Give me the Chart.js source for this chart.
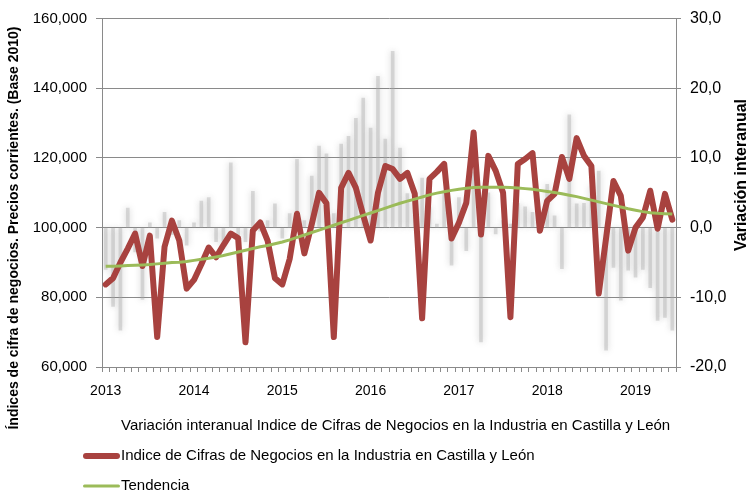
<!DOCTYPE html>
<html>
<head>
<meta charset="utf-8">
<script src="https://cdn.jsdelivr.net/npm/chart.js@4.4.1/dist/chart.umd.min.js"></script>
<style>
  html, body { margin: 0; padding: 0; background: #fff; }
  #wrap { width: 747px; height: 493px; position: relative; }
</style>
</head>
<body>
<div id="wrap"><canvas id="chart"></canvas></div>
<script>
const YEARS = ['2013', '2014', '2015', '2016', '2017', '2018', '2019'];
const MONTHS = ['ene', 'feb', 'mar', 'abr', 'may', 'jun', 'jul', 'ago', 'sep', 'oct', 'nov', 'dic'];

// Índice de cifra de negocios (eje izquierdo)
const INDICE = [
  83700, 85500, 90000, 94000, 98300, 89000, 97700, 68600, 94500, 102000, 96300, 82500,
  85000, 89500, 94300, 91500, 95000, 98300, 97000, 67100, 99200, 101500, 96300, 85500,
  83700, 91000, 104000, 92600, 101000, 110000, 107000, 68600, 111400, 115700, 111400, 103500,
  96300, 110000, 117700, 116800, 114000, 115700, 109700, 74000, 114000, 116000, 118300, 96900,
  101400, 107100, 127300, 98000, 120600, 116300, 110000, 74300, 118300, 119700, 121400, 99100,
  107700, 109700, 120300, 114000, 125700, 120600, 117700, 81100, 97000, 113400, 109100, 93400,
  100000, 102900, 110600, 99700, 109700, 102300
];

// Tendencia (eje izquierdo)
const TENDENCIA = [
  88900, 88900, 89000, 89100, 89200, 89300, 89400, 89600, 89800, 90000, 90100, 90300,
  90600, 90900, 91200, 91600, 92000, 92500, 93000, 93500, 94000, 94500, 94900, 95400,
  95900, 96500, 97200, 97900, 98600, 99300, 100000, 100700, 101400, 102100, 102800, 103500,
  104200, 104900, 105600, 106300, 107000, 107600, 108200, 108800, 109400, 109900, 110300, 110700,
  111000, 111300, 111500, 111600, 111600, 111600, 111600, 111500, 111400, 111200, 111000, 110700,
  110400, 110100, 109700, 109300, 108900, 108400, 107900, 107400, 106900, 106400, 105900, 105400,
  105000, 104600, 104300, 104100, 104000, 103900
];

// Variación interanual (eje derecho)
const VARIACION = [
  -6.0, -11.3, -14.7, 2.8, -3.5, -10.3, 0.7, -1.5, 2.2, -1.0, 1.0, -2.5,
  0.7, 3.8, 4.3, -2.0, -3.0, 9.3, -1.0, -2.0, 5.2, -0.5, 1.0, 3.4,
  -1.5, 2.0, 9.8, 1.0, 7.4, 11.7, 10.6, 2.0, 12.0, 13.1, 15.7, 18.6,
  14.3, 21.7, 12.7, 25.3, 11.4, 4.9, 3.4, 7.1, 3.0, 0.5, 5.0, -5.4,
  4.3, -3.3, 8.0, -16.4, 5.0, -0.9, 1.0, 0.5, 3.5, 3.0, 2.2, 1.0,
  6.2, 1.7, -5.9, 16.2, 3.4, 3.5, 6.0, 8.1, -17.6, -5.7, -10.4, -6.1,
  -7.1, -6.0, -8.6, -13.3, -12.9, -14.7
];

const CATEGORIES = YEARS.flatMap(y => MONTHS.map(m => m + '-' + y.slice(2))).slice(0, INDICE.length);

const LEFT_TITLE = 'Índices de cifra de negocios. Precios corrientes. (Base 2010)';
const RIGHT_TITLE = 'Variación interanual';

const FONT = 'Liberation Sans, Arial, sans-serif';
const AXIS_GRAY = '#8a8a8a';

// soft blurred look for the yoy bars
const barGlow = {
  id: 'barGlow',
  beforeDatasetDraw(chart, args) {
    if (args.index !== 0) return;
    const ctx = chart.ctx;
    ctx.save();
    ctx.shadowColor = 'rgba(120, 120, 120, 0.8)';
    ctx.shadowBlur = 6;
  },
  afterDatasetDraw(chart, args) {
    if (args.index !== 0) return;
    chart.ctx.restore();
  }
};

// axis titles and the stacked legend, laid out like the Excel original
const extras = {
  id: 'extras',
  afterDraw(chart) {
    const ctx = chart.ctx;
    ctx.save();
    ctx.fillStyle = '#000';
    ctx.font = 'bold 14px ' + FONT;
    ctx.textAlign = 'center';
    ctx.textBaseline = 'middle';

    ctx.save();
    ctx.translate(14, 228);
    ctx.rotate(-Math.PI / 2);
    ctx.fillText(LEFT_TITLE, 0, 0);
    ctx.restore();

    ctx.save();
    ctx.font = 'bold 16px ' + FONT;
    ctx.translate(742, 175);
    ctx.rotate(-Math.PI / 2);
    ctx.fillText(RIGHT_TITLE, 0, 0);
    ctx.restore();

    const rows = [426, 456, 486];
    ctx.font = '15px ' + FONT;
    ctx.textAlign = 'left';
    chart.data.datasets.forEach((ds, i) => {
      const y = rows[i];
      if (ds.type === 'line') {
        ctx.beginPath();
        ctx.strokeStyle = ds.borderColor;
        ctx.lineWidth = ds.borderWidth;
        ctx.lineCap = 'round';
        ctx.moveTo(83 + ds.borderWidth / 2, y);
        ctx.lineTo(120 - ds.borderWidth / 2, y);
        ctx.stroke();
      }
      ctx.fillStyle = '#000';
      ctx.fillText(ds.label, 121, y);
    });
    ctx.restore();
  }
};

new Chart(document.getElementById('chart'), {
  type: 'bar',
  data: {
    labels: CATEGORIES,
    datasets: [
      {
        type: 'bar',
        label: 'Variación interanual Indice de Cifras de Negocios en la Industria en Castilla y León',
        data: VARIACION,
        yAxisID: 'y1',
        backgroundColor: 'rgba(170, 170, 170, 0.4)',
        barThickness: 3,
        order: 2,
      },
      {
        type: 'line',
        label: 'Indice de Cifras de Negocios en la Industria en Castilla y León',
        data: INDICE,
        yAxisID: 'y',
        borderColor: '#A8423F',
        borderWidth: 6,
        borderJoinStyle: 'round',
        borderCapStyle: 'round',
        pointRadius: 0,
        tension: 0,
        order: 1,
      },
      {
        type: 'line',
        label: 'Tendencia',
        data: TENDENCIA,
        yAxisID: 'y',
        borderColor: '#9BBB59',
        borderWidth: 3,
        pointRadius: 0,
        tension: 0,
        order: 0,
      },
    ],
  },
  options: {
    responsive: true,
    maintainAspectRatio: false,
    animation: false,
    layout: { padding: { left: 0, right: 0, top: 17, bottom: 0 } },
    plugins: {
      legend: { display: false },
      tooltip: { enabled: false },
    },
    scales: {
      x: {
        offset: true,
        grid: {
          offset: true,
          drawOnChartArea: false,
          drawTicks: true,
          tickLength: 5,
          color: AXIS_GRAY,
        },
        border: { display: true, color: AXIS_GRAY },
        ticks: {
          autoSkip: false,
          maxRotation: 0,
          padding: 11,
          color: '#000',
          font: { family: FONT, size: 14 },
          callback: (val, i) => (i % 12 === 0 ? YEARS[i / 12] : ''),
        },
        afterFit: (s) => { s.height = 126; },
      },
      y: {
        position: 'left',
        min: 60000,
        max: 160000,
        grid: { color: AXIS_GRAY, tickLength: 6 },
        border: { display: true, color: AXIS_GRAY },
        ticks: {
          stepSize: 20000,
          padding: 9,
          color: '#000',
          font: { family: FONT, size: 15 },
          callback: (v) => v.toLocaleString('en-US'),
        },
        afterFit: (s) => { s.width = 102; },
      },
      y1: {
        position: 'right',
        min: -20,
        max: 30,
        grid: { drawOnChartArea: false, color: AXIS_GRAY, tickLength: 5 },
        border: { display: true, color: AXIS_GRAY },
        ticks: {
          stepSize: 10,
          padding: 9,
          color: '#000',
          font: { family: FONT, size: 16 },
          callback: (v) => v.toFixed(1).replace('.', ','),
        },
        afterFit: (s) => { s.width = 71; },
      },
    },
  },
  plugins: [barGlow, extras],
});
</script>
</body>
</html>
